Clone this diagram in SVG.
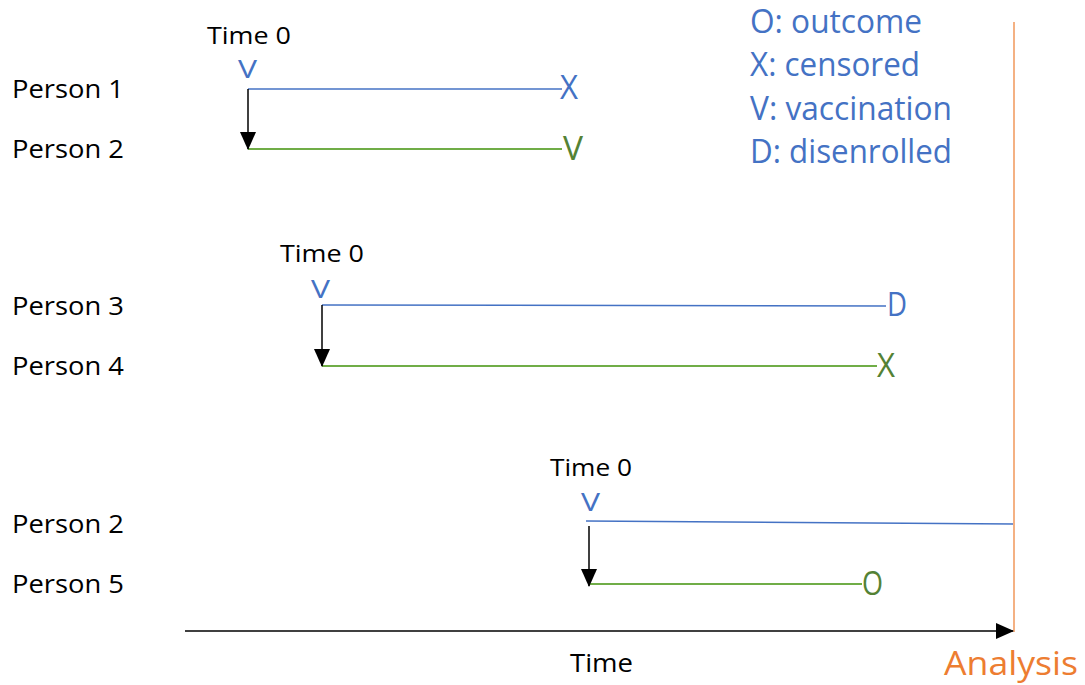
<svg xmlns="http://www.w3.org/2000/svg" width="1085" height="685" viewBox="0 0 1085 685">
<style>
text{font-family:"Open Sans","Liberation Sans",sans-serif}
.lbl{font-size:25px;fill:#000}
.t0{font-size:24px;fill:#000}
.leg{font-size:32px;fill:#4472C4}
.vb{font-size:26px;fill:#4472C4}
.mb{font-size:32px;fill:#4472C4}
.mg{font-size:32px;fill:#548235}
.bl{stroke:#4472C4;stroke-width:1.5;fill:none}
.gl{stroke:#70AD47;stroke-width:2;fill:none}
.ar{stroke:#000;stroke-width:1.5;fill:none}
</style>
<defs>
<marker id="ah" viewBox="0 0 18 16" refX="17" refY="8" markerWidth="18" markerHeight="16" markerUnits="userSpaceOnUse" orient="auto">
<path d="M0,0 L18,8 L0,16 Z" fill="#000"/>
</marker>
</defs>
<rect width="1085" height="685" fill="#fff"/>
<g id="persons">
<text class="lbl" x="12" y="98" textLength="112" lengthAdjust="spacingAndGlyphs">Person 1</text>
<text class="lbl" x="12" y="158" textLength="112" lengthAdjust="spacingAndGlyphs">Person 2</text>
<text class="lbl" x="12" y="315" textLength="112" lengthAdjust="spacingAndGlyphs">Person 3</text>
<text class="lbl" x="12" y="375" textLength="112" lengthAdjust="spacingAndGlyphs">Person 4</text>
<text class="lbl" x="12" y="533" textLength="112" lengthAdjust="spacingAndGlyphs">Person 2</text>
<text class="lbl" x="12" y="593" textLength="112" lengthAdjust="spacingAndGlyphs">Person 5</text>
</g>
<g id="legend">
<text class="leg" x="750" y="33" textLength="172" lengthAdjust="spacingAndGlyphs">O: outcome</text>
<text class="leg" x="750" y="76" textLength="170" lengthAdjust="spacingAndGlyphs">X: censored</text>
<text class="leg" x="750" y="120" textLength="202" lengthAdjust="spacingAndGlyphs">V: vaccination</text>
<text class="leg" x="750" y="163" textLength="202" lengthAdjust="spacingAndGlyphs">D: disenrolled</text>
</g>
<g id="connectors">
<line class="bl" x1="248" y1="89" x2="562" y2="89"/>
<line class="gl" x1="248" y1="149" x2="562" y2="149"/>
<line class="ar" x1="248" y1="89" x2="248" y2="149" marker-end="url(#ah)"/>
<line class="bl" x1="322" y1="305" x2="886" y2="306"/>
<line class="gl" x1="322" y1="366" x2="877" y2="366"/>
<line class="ar" x1="322" y1="305" x2="322" y2="366" marker-end="url(#ah)"/>
<line class="bl" x1="586" y1="521" x2="1014" y2="524"/>
<line class="gl" x1="589" y1="584" x2="862" y2="584"/>
<line class="ar" x1="589" y1="526" x2="589" y2="586" marker-end="url(#ah)"/>
<line stroke="#F4B183" stroke-width="2" x1="1014" y1="22" x2="1014" y2="632"/>
<line class="ar" x1="185" y1="631" x2="1013" y2="631" marker-end="url(#ah)"/>
</g>
<g id="group1">
<text class="t0" x="207" y="44" textLength="84" lengthAdjust="spacingAndGlyphs">Time 0</text>
<text class="vb" x="238" y="78" textLength="19" lengthAdjust="spacingAndGlyphs">V</text>
<text class="mb" x="560" y="99" textLength="18" lengthAdjust="spacingAndGlyphs">X</text>
<text class="mg" x="563" y="160" textLength="20" lengthAdjust="spacingAndGlyphs">V</text>
</g>
<g id="group2">
<text class="t0" x="280" y="262" textLength="84" lengthAdjust="spacingAndGlyphs">Time 0</text>
<text class="vb" x="311" y="298" textLength="19" lengthAdjust="spacingAndGlyphs">V</text>
<text class="mb" x="887" y="316" textLength="20" lengthAdjust="spacingAndGlyphs">D</text>
<text class="mg" x="877" y="377" textLength="18" lengthAdjust="spacingAndGlyphs">X</text>
</g>
<g id="group3">
<text class="t0" x="550" y="476" textLength="82" lengthAdjust="spacingAndGlyphs">Time 0</text>
<text class="vb" x="581" y="511" textLength="19" lengthAdjust="spacingAndGlyphs">V</text>
<text class="mg" x="862" y="595" textLength="21" lengthAdjust="spacingAndGlyphs">O</text>
</g>
<g id="axis">
<text class="lbl" x="570" y="672" textLength="63" lengthAdjust="spacingAndGlyphs">Time</text>
<text x="944" y="675" textLength="134" lengthAdjust="spacingAndGlyphs" style="font-size:33px;fill:#ED7D31">Analysis</text>
</g>
</svg>
